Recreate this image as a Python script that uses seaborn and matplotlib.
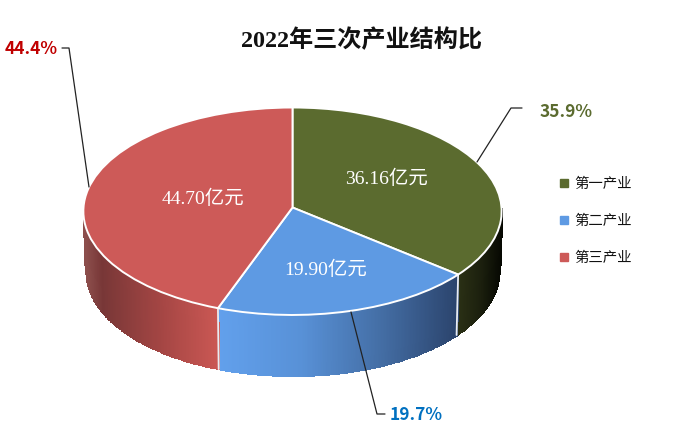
import numpy as np
import matplotlib
matplotlib.use("Agg")
import matplotlib.pyplot as plt
from matplotlib.lines import Line2D
from matplotlib.transforms import Transform, Affine2D
import seaborn as sns

categories = ["第一产业", "第二产业", "第三产业"]
amounts = [36.16, 19.90, 44.70]
shares = [35.9, 19.7, 44.4]
title = "2022年三次产业结构比"

W, H = 676, 428
CX, CY, RX, RY, K = 292.5, 207.5, 209.0, 103.6, 0.036   # top face, perspective
BRX, BRY, BCY = 207.0, 105.0, 271.0                     # bottom rim, pixels

sns.set_theme(style="white")
plt.rcParams["font.family"] = ["Noto Sans CJK SC", "DejaVu Sans"]
palette = sns.color_palette(["#5B6B2F", "#5E9AE3", "#CD5A58"])
serif = ["Liberation Serif", "Noto Sans CJK SC"]

# wall colour stops: (pixel x, rgb)
wall_stops = [
    [(455, (44, 50, 22)), (480, (28, 32, 14)), (501, (6, 8, 2))],
    [(217, (98, 160, 236)), (300, (88, 145, 215)), (380, (68, 110, 165)), (460, (42, 66, 106))],
    [(84, (140, 78, 76)), (100, (120, 55, 55)), (160, (165, 70, 68)), (217, (203, 88, 84))],
]


class Perspective(Transform):
    """Unit pie plane to display pixels, nearer edge drawn slightly larger."""
    input_dims = output_dims = 2
    is_separable = False
    has_inverse = False

    def transform_non_affine(self, values):
        v = np.asarray(values, dtype=float)
        w = 1 + K * v[:, 1]
        return np.column_stack([CX + RX * v[:, 0] / w, H - (CY - RY * v[:, 1] / w)])


proj = Perspective()
pixels = Affine2D().scale(1, -1).translate(0, H)   # reference pixels to display

fig = plt.figure(figsize=(W / 100, H / 100), dpi=100, facecolor="white")
ax = fig.add_axes([0, 0, 1, 1])


def wall_points(t):
    p = proj.transform_non_affine(np.column_stack([np.sin(t), np.cos(t)]))
    tx, ty = p[:, 0], H - p[:, 1]
    u = (tx - CX) * (BRX / RX)
    by = BCY + BRY * np.sqrt(np.clip(1 - (u / BRX) ** 2, 0, 1))
    return tx, ty, CX + u, by


# side walls, derived from the shares
edges = np.concatenate([[0], np.cumsum(shares)]) / np.sum(shares) * 2 * np.pi
for i in range(len(shares)):
    lo, hi = max(edges[i], np.pi / 2), min(edges[i + 1], 3 * np.pi / 2)
    if hi <= lo:
        continue
    t = np.linspace(lo, hi, 160)
    tx, ty, bx, by = wall_points(t)
    stops = wall_stops[i]
    xs = [s[0] for s in stops]
    xm = 0.5 * (tx[:-1] + tx[1:])
    rgb = np.stack([np.interp(xm, xs, [s[1][k] for s in stops]) for k in range(3)], axis=1) / 255
    C = np.ones((1, len(xm), 4))
    C[0, :, :3] = rgb
    ax.pcolormesh(np.vstack([tx, bx]), np.vstack([ty, by]), C, edgecolors="face",
                  linewidth=0.4, zorder=1, transform=pixels)

# seams between walls
for e in edges[1:-1]:
    if np.pi / 2 < e < 3 * np.pi / 2:
        tx, ty, bx, by = wall_points(np.array([e]))
        ax.plot([tx[0], bx[0]], [ty[0], by[0]], color="#E8ECF2", lw=1.3, zorder=2, transform=pixels)

wedges, _ = ax.pie(shares, colors=palette, startangle=90, counterclock=False, radius=1,
                   wedgeprops=dict(edgecolor="white", linewidth=1.4, zorder=3))
for wedge in wedges:
    wedge.set_transform(proj)
ax.set_aspect("auto")
ax.set_xlim(0, W)
ax.set_ylim(H, 0)
ax.axis("off")


def ftext(x, y, s, **kw):
    fig.text(x / W, 1 - y / H, s, ha=kw.pop("ha", "center"), va="center", **kw)


ftext(361, 40.5, title, fontsize=17.4, fontweight="bold", color="#111111", family=serif)

label_pos = [(386, 179), (326, 270), (203, 199)]
for (x, y), a in zip(label_pos, amounts):
    ftext(x, y, f"{a:.2f}亿元", fontsize=14, color="white", family=serif)

pct_font = ["Noto Sans CJK SC", "DejaVu Sans"]
pct_pos = [(566, 112), (416, 415), (31, 49)]
pct_col = ["#5B6B2F", "#0070C0", "#C00000"]
for (x, y), p, c in zip(pct_pos, shares, pct_col):
    ftext(x, y, f"{p:.1f}%", fontsize=12.5, fontweight="bold", color=c, family=pct_font)

leaders = [
    [(477, 162), (511, 108), (522, 108)],
    [(351, 312), (377, 414), (385, 414)],
    [(89, 187), (69, 48), (62, 48)],
]
for pts in leaders:
    ax.plot(*zip(*pts), color="#222222", lw=0.9, zorder=4, clip_on=False, transform=pixels)

handles = [Line2D([], [], ls="", marker="s", ms=5.2, color=c, label=n)
           for c, n in zip(palette, categories)]
ax.legend(handles=handles, loc="center left", bbox_to_anchor=(555 / W, 1 - 221 / H),
          bbox_transform=fig.transFigure, frameon=False, fontsize=10.4, labelspacing=1.62,
          handletextpad=0.15, handlelength=1.2, borderpad=0, borderaxespad=0,
          labelcolor="#111111")

fig.savefig("out.png", dpi=100, facecolor="white")
